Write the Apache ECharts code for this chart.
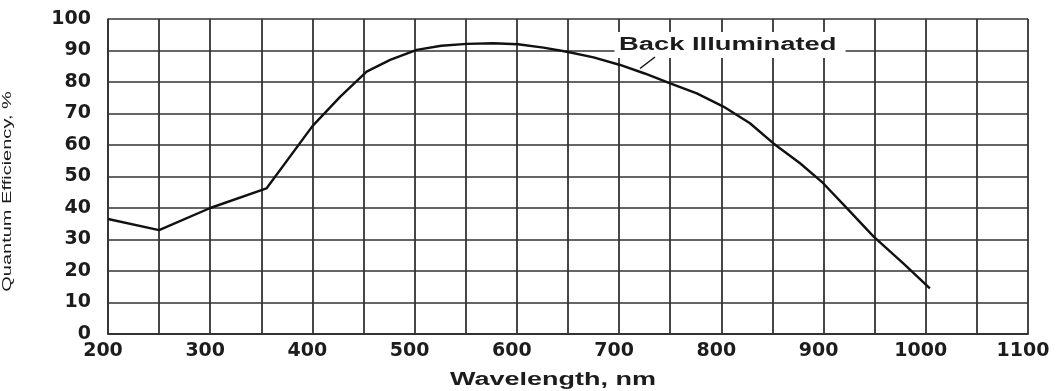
<!DOCTYPE html>
<html>
<head>
<meta charset="utf-8">
<title>Quantum Efficiency – Back Illuminated</title>
<script src="https://cdn.jsdelivr.net/npm/echarts@6/dist/echarts.min.js"></script>
<style>
  html, body { margin: 0; padding: 0; background: #fff; }
  #chart { width: 1058px; height: 391px; }
</style>
</head>
<body>
<div id="chart"></div>
<script>
// Wavelength (nm) and quantum efficiency (%) of a back-illuminated sensor
const wavelength = [200, 250, 300, 355, 400, 427, 453, 476, 502, 526, 551, 577, 601, 626,
                    649, 675, 701, 725, 750, 776, 802, 828, 851, 877, 898, 923, 949, 978, 1004];
const efficiency = [36.5, 33, 40, 46.2, 66, 75.3, 83.3, 87, 90.2, 91.5, 92.1, 92.3, 92, 90.9,
                    89.6, 87.8, 85.4, 82.7, 79.6, 76.4, 72.2, 66.9, 60.5, 54.2, 48.4, 39.9, 30.9, 22.4, 14.5];

// Axis tick labels
const xTickLabels = [200, 300, 400, 500, 600, 700, 800, 900, 1000, 1100];
const yTickLabels = [0, 10, 20, 30, 40, 50, 60, 70, 80, 90, 100];

const xTitle = 'Wavelength, nm';
const yTitle = 'Quantum Efficiency, %';
const curveName = 'Back Illuminated';

const gridColor = '#333333';
const inkColor = '#111111';
const tickFont = { fontFamily: 'DejaVu Sans', fontWeight: 'bold', fontSize: 19, color: '#1c1c1c' };

const chart = echarts.init(document.getElementById('chart'));

chart.setOption({
  animation: false,
  backgroundColor: '#ffffff',
  grid: { left: 108, right: 30, top: 19, bottom: 57, containLabel: false, outerBoundsMode: 'none' },
  xAxis: {
    type: 'value',
    min: 200, max: 1100, interval: 100,
    axisLine: { show: true, lineStyle: { color: gridColor, width: 1.8 } },
    axisTick: { show: false },
    minorTick: { show: false, splitNumber: 2 },
    splitLine: { show: true, lineStyle: { color: gridColor, width: 1.8 } },
    minorSplitLine: { show: true, lineStyle: { color: gridColor, width: 1.8 } },
    axisLabel: Object.assign({
      margin: 8,
      padding: [0, 10, 0, 0],
      formatter: v => (xTickLabels.indexOf(v) >= 0 ? String(v) : '')
    }, tickFont)
  },
  yAxis: {
    type: 'value',
    min: 0, max: 100, interval: 10,
    axisLine: { show: true, lineStyle: { color: gridColor, width: 1.6 } },
    axisTick: { show: false },
    splitLine: { show: true, lineStyle: { color: gridColor, width: 1.5 } },
    axisLabel: Object.assign({
      margin: 17,
      formatter: v => (yTickLabels.indexOf(v) >= 0 ? String(v) : '')
    }, tickFont)
  },
  series: [{
    name: curveName,
    type: 'line',
    data: wavelength.map((w, i) => [w, efficiency[i]]),
    showSymbol: false,
    smooth: false,
    lineStyle: { color: inkColor, width: 2.4 },
    z: 5
  }],
  graphic: [
    {
      type: 'text',
      x: 553, y: 380,
      scaleX: 1.5,
      z: 10,
      style: {
        text: xTitle,
        fontFamily: 'Liberation Sans', fontWeight: 'bold', fontSize: 18,
        fill: '#1c1c1c', align: 'center', verticalAlign: 'middle'
      }
    },
    {
      type: 'text',
      x: 7, y: 191.5,
      rotation: Math.PI / 2,
      scaleX: 1.54,
      z: 10,
      style: {
        text: yTitle,
        fontFamily: 'Liberation Sans', fontSize: 13,
        fill: '#1c1c1c', align: 'center', verticalAlign: 'middle'
      }
    },
    {
      type: 'text',
      x: 730, y: 45,
      scaleX: 1.52,
      z: 10,
      style: {
        text: curveName,
        fontFamily: 'Liberation Sans', fontWeight: 'bold', fontSize: 18,
        fill: '#1c1c1c', align: 'center', verticalAlign: 'middle',
        backgroundColor: '#ffffff',
        padding: [4, 6, 4, 3]
      }
    },
    {
      type: 'line',
      z: 10,
      shape: { x1: 655, y1: 57, x2: 640, y2: 68.5 },
      style: { stroke: inkColor, lineWidth: 1.5 }
    }
  ]
});
</script>
</body>
</html>
